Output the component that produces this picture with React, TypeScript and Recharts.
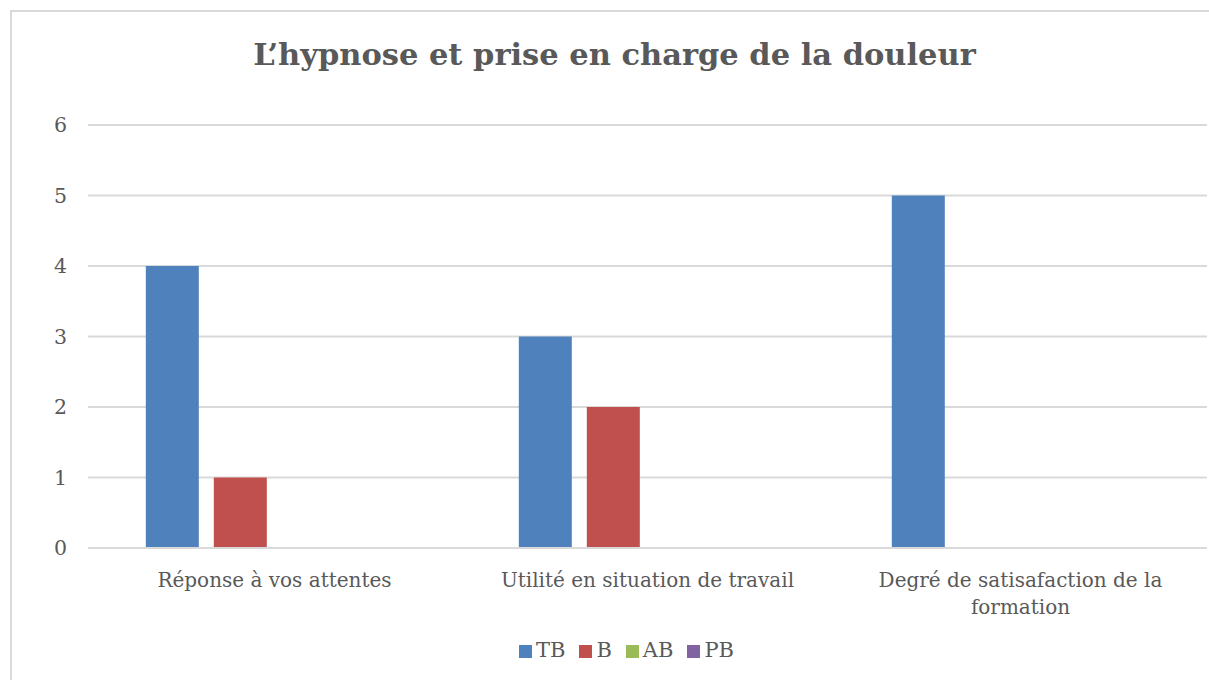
import { BarChart, Bar, XAxis, YAxis, CartesianGrid, Legend, Text } from 'recharts';

// Catégories et valeurs
const categories = ['Réponse à vos attentes', 'Utilité en situation de travail', 'Degré de satisafaction de la formation'];
const tbValues = [4, 3, 5];
const bValues = [1, 2, 0];
const abValues = [0, 0, 0];
const pbValues = [0, 0, 0];
const yTicks = [0, 1, 2, 3, 4, 5, 6];

const chartData = categories.map((name, i) => ({
  name,
  TB: tbValues[i],
  B: bValues[i],
  AB: abValues[i],
  PB: pbValues[i],
}));

const FONT = '"DejaVu Serif", serif';
const TEXT_COLOR = '#595959';

const CategoryTick = (props: any) => {
  const { x, y, payload } = props;
  return (
    <Text
      x={x}
      y={y + 17}
      width={300}
      textAnchor="middle"
      verticalAnchor="start"
      lineHeight={27}
      fill={TEXT_COLOR}
      style={{ fontSize: 20, fontFamily: FONT }}
    >
      {payload.value}
    </Text>
  );
};

export default function App() {
  return (
    <div style={{ position: 'fixed', left: 0, top: 0, width: 1209, height: 680, overflow: 'hidden', background: '#fff' }}>
      <style>{'html, body { overflow: hidden; } .recharts-legend-item { margin-right: 14px !important; }'}</style>
      <div
        style={{
          position: 'absolute',
          left: 10,
          top: 10,
          width: 1220,
          height: 720,
          border: '2px solid #D9D9D9',
          boxSizing: 'border-box',
        }}
      />
      <div
        style={{
          position: 'absolute',
          left: 0,
          top: 36,
          width: 1229,
          textAlign: 'center',
          fontFamily: FONT,
          fontWeight: 'bold',
          fontSize: 30.5,
          color: TEXT_COLOR,
        }}
      >
        L’hypnose et prise en charge de la douleur
      </div>
      <div style={{ position: 'absolute', left: 0, top: 0 }}>
        <BarChart
          width={1209}
          height={680}
          data={chartData}
          margin={{ top: 125, right: 2, left: 0, bottom: 18 }}
          barCategoryGap="15.5%"
          barGap={15}
        >
          <CartesianGrid vertical={false} stroke="#D9D9D9" strokeWidth={2} />
          <XAxis
            dataKey="name"
            axisLine={{ stroke: '#D9D9D9', strokeWidth: 2 }}
            tickLine={false}
            interval={0}
            height={90}
            tick={<CategoryTick />}
          />
          <YAxis
            domain={[0, 6]}
            ticks={yTicks}
            width={88}
            axisLine={false}
            tickLine={false}
            tickSize={0}
            tickMargin={21}
            tick={{ fill: TEXT_COLOR, fontSize: 20.5, fontFamily: FONT }}
          />
          <Legend
            verticalAlign="bottom"
            align="center"
            iconType="square"
            iconSize={13}
            itemSorter={null as any}
            wrapperStyle={{ fontFamily: FONT, fontSize: 21, paddingLeft: 30 }}
            formatter={(value: string) => <span style={{ color: TEXT_COLOR }}>{value}</span>}
          />
          <Bar dataKey="TB" name="TB" fill="#4F81BD" isAnimationActive={false} />
          <Bar dataKey="B" name="B" fill="#C0504D" isAnimationActive={false} />
          <Bar dataKey="AB" name="AB" fill="#9BBB59" isAnimationActive={false} />
          <Bar dataKey="PB" name="PB" fill="#8064A2" isAnimationActive={false} />
        </BarChart>
      </div>
    </div>
  );
}
